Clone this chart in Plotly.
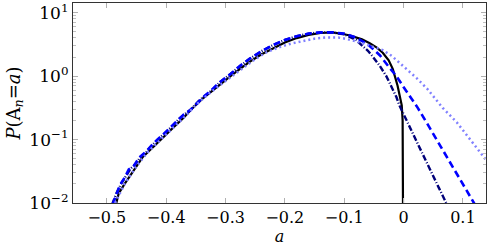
import plotly.graph_objects as go

# ---- data ----
a_theory = [-0.484, -0.48, -0.47, -0.461, -0.45, -0.439, -0.42, -0.405, -0.39, -0.371, -0.355, -0.338,
            -0.32, -0.304, -0.29, -0.276, -0.26, -0.24, -0.22, -0.20, -0.18, -0.16, -0.14, -0.12,
            -0.10, -0.09, -0.07, -0.057, -0.045, -0.035, -0.025, -0.018, -0.01, -0.006, -0.003,
            -0.0015, -0.0005, -0.0001, 0.0]
p_theory = [0.01, 0.0141, 0.02, 0.0263, 0.038, 0.0537, 0.0794, 0.110, 0.148, 0.219, 0.316, 0.447,
            0.617, 0.813, 1.023, 1.288, 1.66, 2.188, 2.754, 3.388, 3.981, 4.467, 4.786, 4.898,
            4.571, 4.37, 3.80, 3.31, 2.82, 2.34, 1.78, 1.29, 0.708, 0.479, 0.347,
            0.2, 0.0794, 0.0251, 0.0001]

a_dashdot = [-0.491, -0.484, -0.476, -0.468, -0.46, -0.452, -0.443, -0.433, -0.425, -0.413, -0.403, -0.39,
             -0.378, -0.368, -0.358, -0.345, -0.333, -0.324, -0.31, -0.292, -0.276, -0.26, -0.24, -0.22,
             -0.20, -0.18, -0.16, -0.14, -0.12, -0.10, -0.08, -0.074, -0.06, -0.052, -0.04,
             -0.029, -0.02, -0.012, -0.007, 0.0, 0.02, 0.04, 0.06, 0.073]
p_dashdot = [0.00955, 0.0141, 0.02, 0.0263, 0.0347, 0.0407, 0.0537, 0.0646, 0.0794, 0.102, 0.123, 0.162,
             0.214, 0.257, 0.302, 0.407, 0.501, 0.589, 0.794, 1.072, 1.445, 1.862, 2.455, 3.09,
             3.715, 4.266, 4.677, 4.898, 4.898, 4.571, 3.72, 3.31, 2.51, 2.04, 1.45,
             1.0, 0.676, 0.468, 0.347, 0.251, 0.102, 0.0417, 0.017, 0.00955]

a_dashed = [-0.49, -0.485, -0.478, -0.47, -0.463, -0.455, -0.445, -0.435, -0.427, -0.415, -0.405, -0.393,
            -0.38, -0.37, -0.36, -0.345, -0.335, -0.326, -0.31, -0.292, -0.276, -0.26, -0.24, -0.22,
            -0.20, -0.18, -0.16, -0.14, -0.12, -0.10, -0.08, -0.06, -0.04, -0.025,
            -0.012, 0.0, 0.01, 0.024, 0.04, 0.06, 0.08, 0.10, 0.12]
p_dashed = [0.00955, 0.0132, 0.0191, 0.0251, 0.0339, 0.038, 0.0525, 0.0631, 0.0759, 0.1, 0.120, 0.155,
            0.204, 0.251, 0.288, 0.398, 0.490, 0.575, 0.794, 1.072, 1.445, 1.862, 2.455, 3.09,
            3.715, 4.266, 4.677, 4.898, 4.898, 4.677, 4.07, 3.16, 2.14, 1.41,
            1.0, 0.676, 0.501, 0.316, 0.178, 0.0851, 0.0407, 0.0200, 0.00955]

a_dotted = [-0.486, -0.47, -0.45, -0.43, -0.41, -0.39, -0.37, -0.35, -0.33, -0.31, -0.29, -0.27,
            -0.25, -0.23, -0.21, -0.19, -0.17, -0.15, -0.13, -0.11, -0.10, -0.08, -0.06, -0.035,
            -0.02, -0.007, 0.01, 0.022, 0.04, 0.066, 0.09, 0.106, 0.12, 0.139, 0.15]
p_dotted = [0.01, 0.02, 0.038, 0.065, 0.098, 0.146, 0.222, 0.35, 0.51, 0.71, 0.98, 1.38,
            1.86, 2.40, 2.85, 3.25, 3.60, 3.90, 4.07, 4.05, 3.92, 3.55, 3.09, 2.57,
            2.09, 1.62, 1.17, 0.933, 0.631, 0.316, 0.186, 0.120, 0.0794, 0.0479, 0.0331]

x_tickvals = [-0.5, -0.4, -0.3, -0.2, -0.1, 0.0, 0.1]
x_ticktext = ["−0.5", "−0.4", "−0.3", "−0.2", "−0.1", "0", "0.1"]
y_tickvals = [0.01, 0.1, 1, 10]
y_ticktext = ["10<sup>−2</sup>", "10<sup>−1</sup>", "10<sup>0</sup>", "10<sup>1</sup>"]
y_minor = [m * d for d in (0.01, 0.1, 1, 10) for m in range(2, 10)]

FONT = "DejaVu Serif"

fig = go.Figure()
fig.add_trace(go.Scatter(x=a_theory, y=p_theory, mode="lines",
                         line=dict(color="black", width=2.2), showlegend=False))
fig.add_trace(go.Scatter(x=a_dashdot, y=p_dashdot, mode="lines",
                         line=dict(color="#00007a", width=2.4, dash="6px,2px,1px,2px"), showlegend=False))
fig.add_trace(go.Scatter(x=a_dashed, y=p_dashed, mode="lines",
                         line=dict(color="#0000ff", width=2.6, dash="7px,4px"), showlegend=False))
fig.add_trace(go.Scatter(x=a_dotted, y=p_dotted, mode="lines",
                         line=dict(color="#8080ff", width=2.5, dash="2px,3px"), showlegend=False))

fig.update_layout(
    width=488, height=246,
    margin=dict(l=73, r=1, t=2, b=38),
    paper_bgcolor="white", plot_bgcolor="white",
    font=dict(family=FONT, size=16, color="black"),
)
fig.update_xaxes(
    range=[-0.557, 0.139], tickvals=x_tickvals, ticktext=x_ticktext,
    showgrid=False, zeroline=False, showline=True, linecolor="#333333", linewidth=1.2,
    mirror="allticks", ticks="inside", ticklen=5, tickcolor="#b0b0b0", tickwidth=1,
    title=dict(text="<i>a</i>", standoff=7, font=dict(family=FONT, size=16)),
    tickfont=dict(family=FONT, size=16),
)
fig.update_yaxes(
    type="log", range=[-2, 1.153], tickvals=y_tickvals, ticktext=y_ticktext,
    showgrid=False, zeroline=False, showline=True, linecolor="#333333", linewidth=1.2,
    mirror="allticks", ticks="inside", ticklen=5, tickcolor="#b0b0b0", tickwidth=1,
    ticklabeloverflow="allow",
    minor=dict(tickvals=y_minor, ticks="inside", ticklen=3, tickcolor="#c0c0c0", tickwidth=1),
    title=dict(text="<i>P</i>(A<sub><i>n</i></sub>=<i>a</i>)", standoff=4, font=dict(family=FONT, size=18)),
    tickfont=dict(family=FONT, size=17),
)

fig.write_html("out.html")
